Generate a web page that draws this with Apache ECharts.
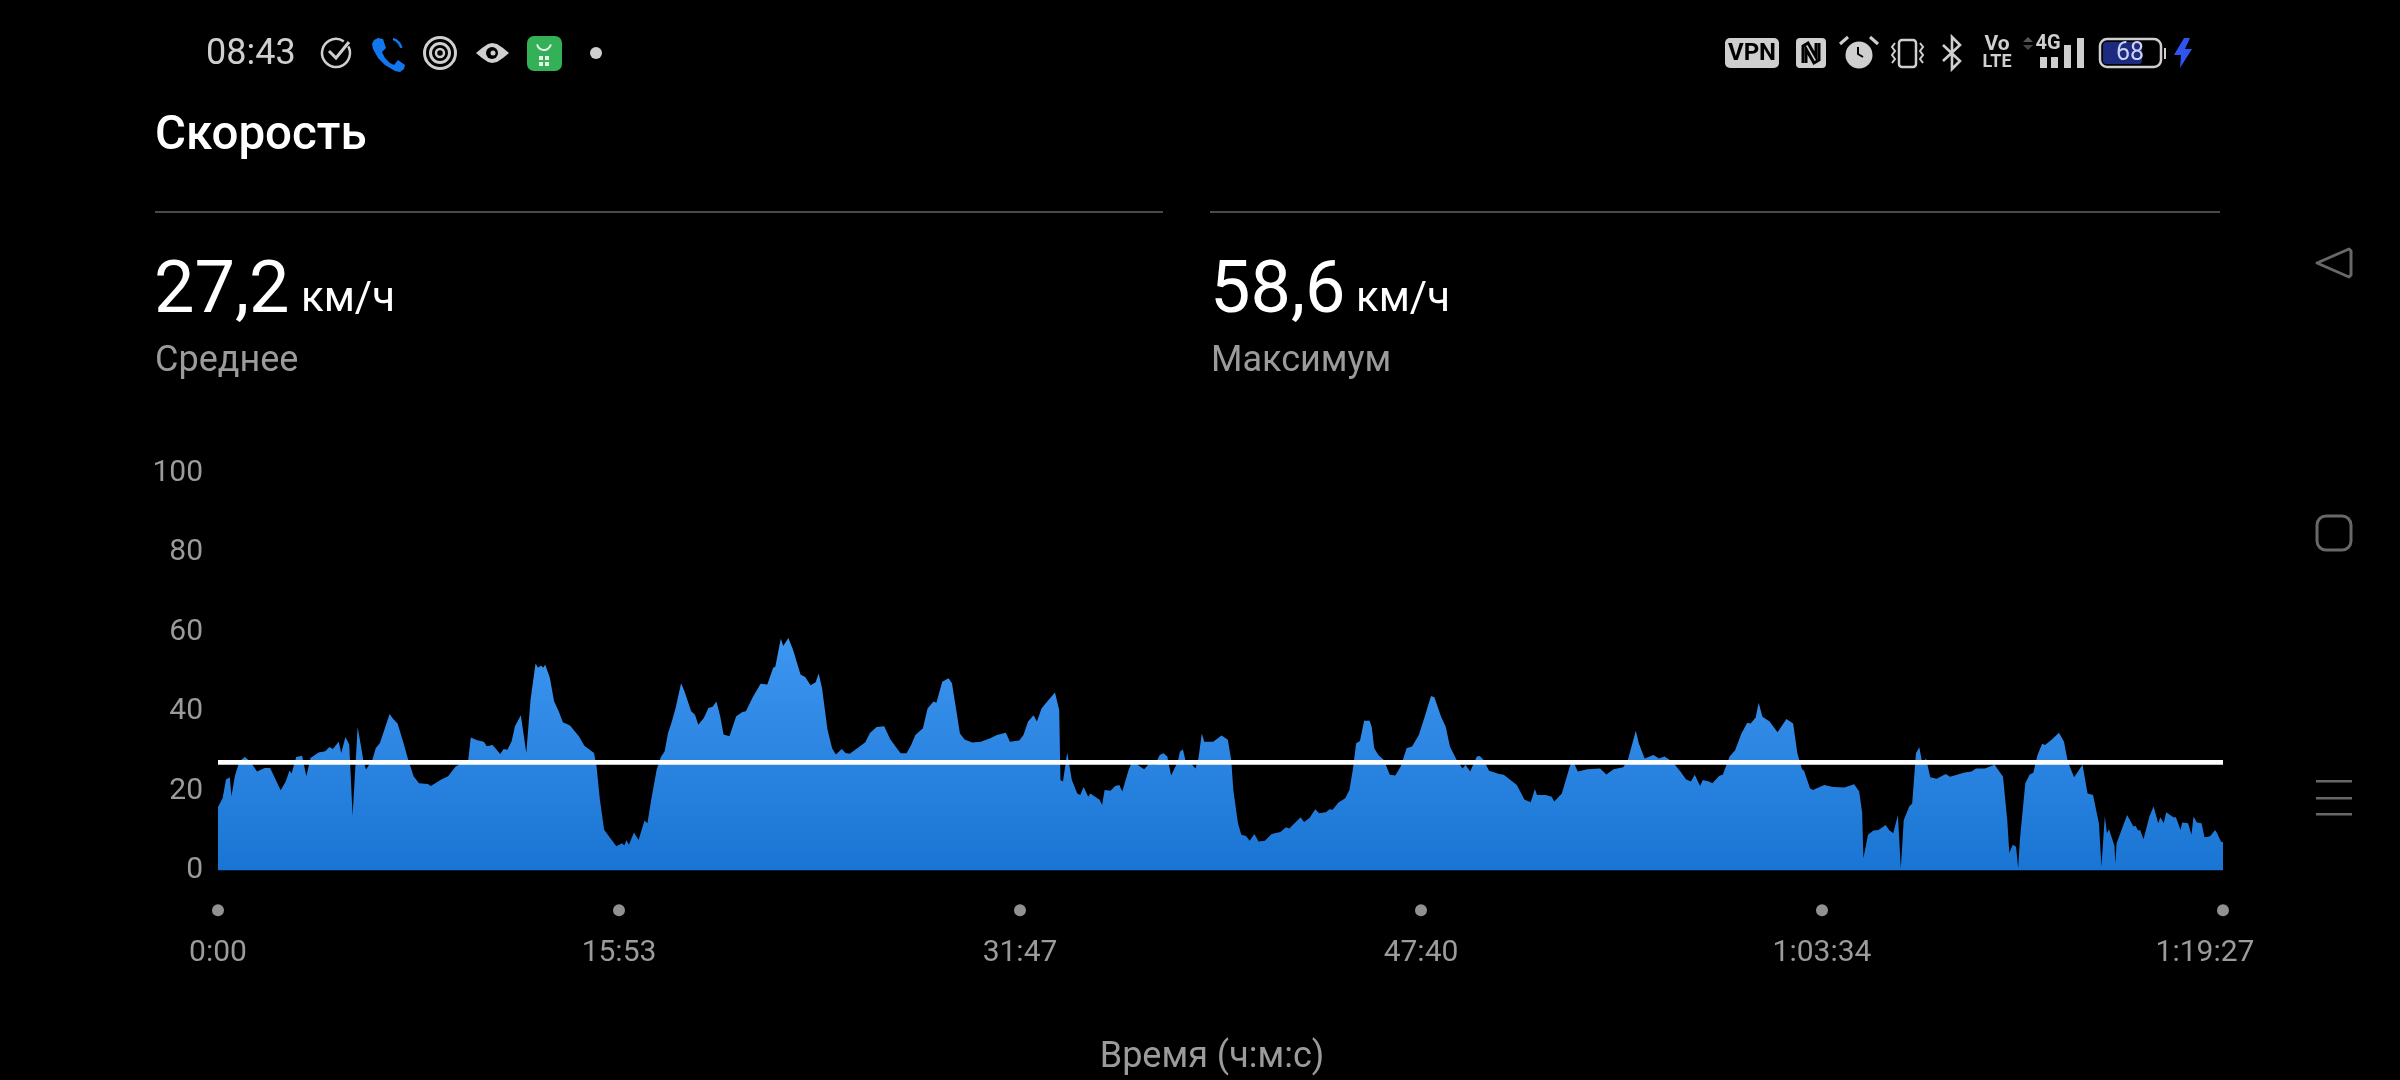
<!DOCTYPE html>
<html><head><meta charset="utf-8">
<style>html,body{margin:0;padding:0;background:#000}#c{width:2400px;height:1080px}</style>
<script src="https://cdn.jsdelivr.net/npm/echarts@6/dist/echarts.min.js"></script>
</head><body><div id="c"></div>
<script>
const seconds = [0,11,19,28,32,40,51,64,76,93,111,124,149,161,170,175,186,200,210,220,239,255,265,273,287,293,303,312,320,332,342,346,352,367,375,385,408,416,427,441,451,465,478,499,506,531,547,565,595,601,616,632,639,653,671,679,688,698,706,720,733,743,755,761,768,773,778,789,799,810,820,837,858,871,894,900,908,918,929,947,961,966,971,977,989,1000,1014,1021,1030,1043,1053,1062,1070,1078,1088,1101,1109,1125,1134,1142,1155,1166,1176,1185,1194,1202,1216,1232,1247,1255,1272,1290,1306,1320,1325,1338,1344,1356,1367,1385,1396,1409,1421,1428,1436,1449,1460,1469,1483,1492,1502,1524,1539,1550,1566,1584,1598,1614,
1623,1637,1648,1658,1676,1687,1701,1708,1722,1737,1745,1754,1764,1775,1793,1814,1836,1852,1873,1883,1905,1915,1926,1939,1947,1958,1968,1990,2000,2003,2009,2019,2030,2043,2050,2058,2069,2074,2096,2102,2108,2122,2133,2143,2150,2165,2175,2186,2202,2213,2228,2239,2248,2257,2266,2282,2287,2294,2301,2313,2324,2331,2339,2345,2366,2386,2401,2409,2414,2425,2433,2444,2453,2464,2474,2489,2505,2526,2539,2547,2574,2582,2595,2609,2618,2634,2643,2650,2664,2680,2690,2698,2706,2715,2725,2738,2743,2749,2759,2772,2786,2799,2812,2826,2839,2855,2869,2884,2892,2908,2919,2929,2945,2959,2966,2977,2993,3000,3009,3022,3046,3057,3088,3106,3121,3131,3136,3157,3171,3177,3195,
3214,3221,3233,3256,3286,3301,3318,3341,3352,3371,3378,3392,3413,3426,3439,3458,3477,3490,3502,3511,3524,3530,3545,3553,3569,3578,3594,3607,3622,3636,3644,3656,3663,3672,3689,3708,3729,3745,3755,3766,3771,3785,3792,3819,3840,3867,3890,3902,3909,3912,3923,3936,3948,3965,3973,3983,3994,4001,4008,4021,4028,4037,4045,4052,4061,4071,4086,4108,4118,4153,4169,4180,4201,4224,4244,4254,4259,4267,4275,4280,4284,4297,4307,4316,4326,4337,4344,4360,4377,4389,4398,4413,4433,4445,4458,4472,4478,4486,4491,4496,4509,4511,4514,4539,4554,4559,4565,4570,4578,4592,4602,4613,4618,4626,4632,4649,4655,4666,4670,4684,4692,4697,4705,4716,4723,4732,4737,4748,4753,4762,4767];
const speed = [16,18.2,22.9,23.5,18.7,23.7,27.5,28.6,27.5,24.9,25.8,25.8,20.2,22.4,25.2,24.4,28.6,28.9,23.7,28.3,29.7,30,31.1,30.6,32.4,29.6,33.6,31.7,13.8,36.1,30,27.5,25.4,27.9,30.8,32.1,39.4,38.2,37,32.1,28.3,23.7,22,21.8,21.3,22.9,23.7,26.2,27.9,33.5,32.8,32.4,31.3,31.6,29.3,30.6,30.4,32.5,36.3,39.1,29.6,43,52.1,51,51.6,51,51.8,48.5,42.6,40.1,37.3,36.5,33.8,31.4,29.6,26.2,17.8,10.3,8.7,6.1,6.9,6.3,7.7,6.5,9.6,7.7,12.6,11.9,17.8,25.4,28.6,30,34.6,37.1,40.9,47.1,45.1,40.1,39.2,36.7,38.4,40.9,41.2,42.5,38.8,34.2,33.8,38.8,39.9,40.1,43.7,47,46.8,51,51.3,58.3,56.5,58.5,55.6,49.3,48.7,46.6,47.4,49.6,46,35.5,30.8,29.2,30.6,29.6,29.4,31.1,32.3,34.6,36.1,36.3,33.1,30.8,
29.5,29.5,31.6,34.1,35.8,40.8,42.5,42.2,47.5,48.4,47.1,41.2,34.5,33,32.2,32.4,33.3,34.1,34.7,32.4,32.7,34.1,37.5,39.1,37.5,40.8,42.1,44.8,40.4,22.8,22.4,29.7,22.8,19.4,19,21,18.6,19.4,17.8,16.5,20.3,20.1,21.3,21.5,19.9,25.3,27.8,26.6,25.5,26.8,26.6,29.1,29.5,28.7,23.9,27.4,29.9,30.5,27.4,27,25.7,28.2,34.5,32.4,32.4,34,32.9,27.8,20.3,11.9,9,8.7,7.5,9.2,7.3,7.5,9.2,9.7,10.9,10.6,13.4,12.2,13.2,15.4,14.4,14.7,15.4,15.3,17.1,18.2,20.3,25.3,32,32.6,37.7,37.7,36.2,30.8,29.1,27.8,24.1,23.9,26.2,30.8,31.2,34.1,38.7,43.9,43.6,38.7,36.2,31.2,27.8,25.7,26.6,24.9,28.7,28.8,27.8,25.1,24.3,24.1,21.5,17.9,17.2,20.5,19,19,18.6,17.4,19.4,
26.2,27.7,24.9,25.5,25.7,24.2,25.5,26,27.8,35.2,32,28.2,29.1,28.2,28.7,27.4,24.9,23,22.4,24.1,21.3,22.8,22.4,22,23.8,24.2,28.7,30.3,34.5,37.2,37,38.5,42.2,38.7,37.5,34.8,38.1,37,29.5,25.5,25.1,20.7,20.3,21.5,21,20.9,21.7,19.9,14.6,3.1,9,10.1,10.2,11.5,10.2,9.4,14,0.6,12.7,16.1,16.9,29.5,31,27,28.2,23.5,23.1,24.3,23.6,24.7,24.9,25.7,25.7,26.6,23.6,12.7,4.4,6.5,6,0.6,7.7,22,24.1,24.6,29.1,31.9,31.6,33,34.7,32.4,27.4,23.5,26.6,19.4,19,11.9,1,13.7,9.4,10.4,6.2,1.8,6.9,14,11.1,11.3,10.1,10.2,7.9,13.6,16.1,11.9,13.4,11.9,14.7,13.4,13.4,10.2,12.1,11.9,9,13.6,12.1,11.9,8.4,8.5,8.7,10.2,9.4,7.3,7.1];
const averageSpeed = 27.2;
const maxSpeed = 58.6;
const tickLabels = ['0:00','15:53','31:47','47:40','1:03:34','1:19:27'];
const tickSeconds = [0,953.4,1906.8,2860.2,3813.6,4767];
const yTicks = [0,20,40,60,80,100];

const font = 'Roboto, "Noto Sans", sans-serif';
const pts = seconds.map((s,i)=>[s,speed[i]]);
const grey = '#9b9b9b', icon = '#cfcfcf', nav = '#686868';
const txt = (x,y,text,size,fill,extra={}) => ({type:'text',x,y,silent:true,style:Object.assign({text,fontSize:size,fill,fontFamily:font,textVerticalAlign:'middle'},extra)});
const at = (p,x,y)=>p.map(q=>[q[0]+x,q[1]+y]);
const line = (p,x,y,style) => ({type:'polyline',silent:true,shape:{points:at(p,x,y)},style});
const poly = (p,x,y,fill) => ({type:'polygon',silent:true,shape:{points:at(p,x,y)},style:{fill}});
const stroke = (c,lw)=>({stroke:c,lineWidth:lw,fill:'none'});
const bar = (x,y,width,height,fill,r=0)=>({type:'rect',silent:true,shape:{x,y,width,height,r},style:{fill}});

const chart = echarts.init(document.getElementById('c'));
chart.setOption({
  animation:false,
  backgroundColor:'#000',
  grid:{left:218,width:2005,top:473,height:397.6},
  xAxis:{type:'value',min:0,max:4767,interval:953.4,
    axisLine:{show:false},axisTick:{show:false},splitLine:{show:false},
    axisLabel:{margin:68,fontSize:30,color:grey,fontFamily:font,showMinLabel:true,showMaxLabel:true,hideOverlap:false,alignMinLabel:'center',alignMaxLabel:'center',
      rich:{last:{fontSize:30,color:grey,fontFamily:font,padding:[0,36,0,0]}},
      formatter:(v,i)=>i===tickLabels.length-1?'{last|'+tickLabels[i]+'}':tickLabels[i]}},
  yAxis:{type:'value',min:0,max:100,interval:20,
    axisLine:{show:false},axisTick:{show:false},splitLine:{show:false},
    axisLabel:{margin:15,fontSize:30,color:grey,fontFamily:font,padding:[3,0,0,0],formatter:v=>yTicks.includes(v)?String(v):''}},
  series:[
    {type:'line',data:pts,symbol:'none',smooth:false,lineStyle:{width:0},
      areaStyle:{opacity:1,color:{type:'linear',x:0,y:0,x2:0,y2:1,colorStops:[{offset:0,color:'#3d96f0'},{offset:1,color:'#1a74d3'}]}},z:2},
    {type:'line',data:[[0,averageSpeed],[4767,averageSpeed]],symbol:'none',lineStyle:{width:4.8,color:'#fff'},z:3},
    {type:'scatter',data:tickSeconds.map(s=>[s,-10]),symbol:'circle',symbolSize:12,clip:false,itemStyle:{color:'#b5b5b5'},z:3}
  ],
  graphic:[
    txt(155,137,'Скорость',47.5,'#fff',{fontWeight:500}),
    bar(155,211,1008,2,'#4a4a4a'),
    bar(1210,211,1010,2,'#4a4a4a'),
    txt(154,294,String(averageSpeed).replace('.',','),72,'#fff'),
    txt(301,300,'км/ч',42,'#fff'),
    txt(155,362,'Среднее',36,grey),
    txt(1210,294,String(maxSpeed).replace('.',','),72,'#fff'),
    txt(1356,300,'км/ч',42,'#fff'),
    txt(1211,362,'Максимум',36,grey),
    txt(1212,1058,'Время (ч:м:с)',36,grey,{textAlign:'center'}),
    // status bar left
    txt(206,55,'08:43',36,'#cfcfcf'),
    {type:'arc',silent:true,shape:{cx:336,cy:53,r:14,startAngle:-0.5,endAngle:5.3},style:stroke(icon,2.5)},
    line([[0,9],[7,16],[20,0]],329,42,stroke(icon,3)),
    poly([[6,0],[11,1],[14,10],[10,14],[13,20],[18,25],[22,27],[26,22],[33,27],[32,31],[28,34],[23,33],[13,27],[6,20],[1,11],[0,6],[2,2]],372,38,'#1277ee'),
    {type:'arc',silent:true,shape:{cx:388,cy:52,r:14,startAngle:-1.2,endAngle:-0.3},style:stroke('#1277ee',2.5)},
    {type:'circle',silent:true,shape:{cx:440,cy:53,r:15.5},style:stroke(icon,3)},
    {type:'circle',silent:true,shape:{cx:440,cy:53,r:9.5},style:stroke(icon,3)},
    {type:'circle',silent:true,shape:{cx:440,cy:53,r:4},style:stroke(icon,2.5)},
    poly([[0,10],[6,5],[12,1],[16,0],[21,1],[27,5],[33,10],[27,15],[21,19],[16,20],[12,19],[6,15]],476,43,icon),
    {type:'circle',silent:true,shape:{cx:492,cy:53,r:6},style:{fill:'#000'}},
    {type:'circle',silent:true,shape:{cx:493,cy:53,r:2.5},style:{fill:icon}},
    bar(527,36,35,35,'#34b157',7),
    {type:'arc',silent:true,shape:{cx:544,cy:43,r:7,startAngle:0.2,endAngle:2.94},style:stroke('#e6f6ea',2)},
    bar(539,56,4,4,'#e6f6ea'),bar(545,56,4,4,'#e6f6ea'),bar(539,62,4,4,'#e6f6ea'),bar(545,62,4,4,'#e6f6ea'),
    {type:'circle',silent:true,shape:{cx:596,cy:53,r:6},style:{fill:icon}},
    // status bar right
    bar(1725,38,54,30,icon,5),
    txt(1752,54,'VPN',24,'#000',{textAlign:'center',fontWeight:700}),
    bar(1796,38,30,30,icon,4),
    line([[0,20],[0,3],[5,0],[13,14],[13,0]],1803,43,stroke('#000',3)),
    line([[16,0],[16,17],[11,20],[3,6],[3,20]],1803,43,stroke('#000',3)),
    {type:'circle',silent:true,shape:{cx:1859,cy:55,r:13.5},style:{fill:icon}},
    line([[0,0],[0,7],[5,10]],1858,47,stroke('#000',2)),
    line([[0,7],[8,0]],1840,37,stroke(icon,3)),
    line([[30,0],[38,7]],1840,37,stroke(icon,3)),
    {type:'rect',silent:true,shape:{x:1899,y:40,width:17,height:27,r:3},style:stroke(icon,2.5)},
    line([[3,0],[0,4],[3,8],[0,12],[3,16],[0,20]],1892,43,stroke(icon,2)),
    line([[0,0],[3,4],[0,8],[3,12],[0,16],[3,20]],1920,43,stroke(icon,2)),
    line([[0,8],[17,24],[9,32],[9,0],[17,8],[0,24]],1943,37,stroke(icon,2.6)),
    txt(1997,45,'Vo',21,icon,{textAlign:'center',fontWeight:700}),
    txt(1997,62,'LTE',18,icon,{textAlign:'center',fontWeight:700}),
    txt(2048,44,'4G',20,icon,{textAlign:'center',fontWeight:700}),
    poly([[5,0],[10,5],[0,5]],2023,37,'#555'),
    poly([[0,0],[10,0],[5,5]],2023,45,'#444'),
    bar(2040,57,7,11,icon),bar(2051,57,7,11,icon),bar(2064,45,7,23,icon),bar(2077,38,7,30,icon),
    {type:'rect',silent:true,shape:{x:2100,y:39,width:61,height:28,r:7},style:stroke(icon,2.5)},
    bar(2103,42,39,22,'#1c2a80',3),
    bar(2164,48,2,11,icon),
    txt(2130,54,'68',25,'#cdd2f2',{textAlign:'center'}),
    poly([[10,0],[0,17],[7,17],[6,30],[18,11],[11,11],[16,0]],2174,38,'#2f55ee'),
    // navigation keys
    {type:'polygon',silent:true,shape:{points:at([[0,14],[32,0],[34,2],[34,26],[32,28]],2317,249)},style:{stroke:nav,lineWidth:3,fill:'none',lineJoin:'round'}},
    {type:'rect',silent:true,shape:{x:2317,y:516,width:34,height:34,r:9},style:stroke(nav,3)},
    bar(2316,780,36,2.5,nav),bar(2316,797,36,2.5,nav),bar(2316,813,36,2.5,nav)
  ]
});
</script></body></html>
